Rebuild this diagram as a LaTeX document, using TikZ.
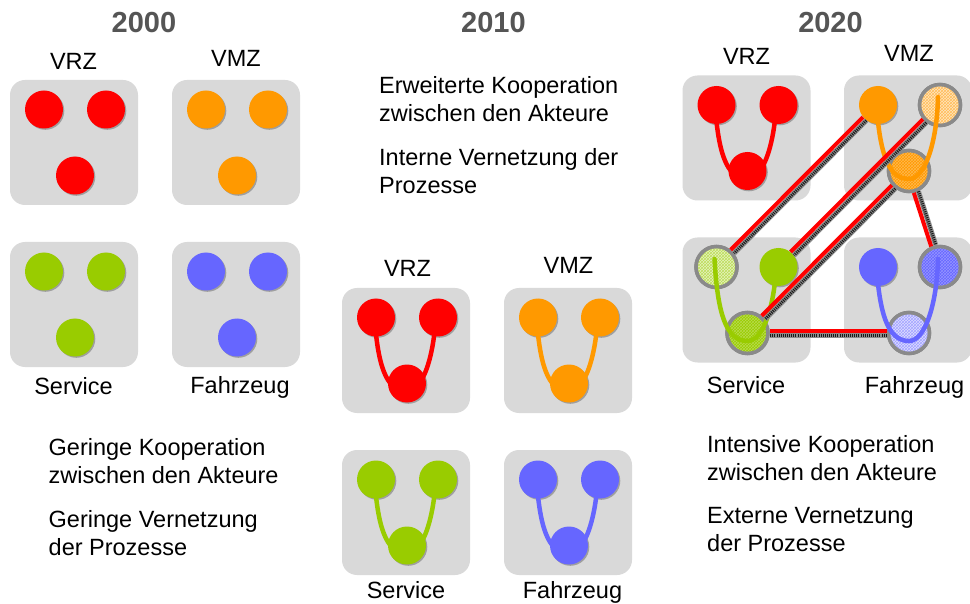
\documentclass[tikz,border=0pt]{standalone}
\usepackage{fontspec}
\setmainfont{Liberation Sans}
\usetikzlibrary{calc,shadows,patterns}

\definecolor{cRed}{HTML}{FF0000}
\definecolor{cOrange}{HTML}{FF9900}
\definecolor{cGreen}{HTML}{99CC00}
\definecolor{cBlue}{HTML}{6666FF}
\definecolor{boxgray}{HTML}{D9D9D9}
\definecolor{titlegray}{HTML}{555555}
\definecolor{ringgray}{HTML}{8A8A8A}

\tikzset{
  panelbox/.style={rectangle, rounded corners=15pt, fill=boxgray,
    minimum width=128pt, minimum height=125pt, inner sep=0pt},
  dot/.style={circle, inner sep=0pt, minimum size=38pt, fill=#1,
    drop shadow={shadow xshift=1.3pt, shadow yshift=-1.3pt, opacity=0.5, fill=black!60}},
  ring/.style 2 args={circle, inner sep=0pt, minimum size=41pt, line width=3.5pt,
    draw=ringgray, fill=#1,
    postaction={pattern=crosshatch, pattern color=#2},
    postaction={draw=ringgray, line width=3.5pt}},
  vcurve/.style={draw=#1, line width=4.5pt, line cap=round},
  linkred/.style={draw=cRed, line width=4pt},
  linkhatch/.style={draw=black!45, line width=5pt},
  linkdots/.style={draw=black!90, line width=3pt, dash pattern=on 1pt off 1.1pt},
  year/.style={font=\bfseries\fontsize{29}{34}\selectfont, text=titlegray,
    anchor=base, inner sep=0pt},
  actorname/.style={font=\fontsize{23.5}{28}\selectfont, anchor=base, inner sep=0pt},
  blurb/.style={font=\fontsize{23.5}{28}\selectfont, align=left,
    anchor=north west, inner sep=0pt},
}

% grey panel with three actor circles: prefix, centre x, centre y, three circle styles
\newcommand{\trio}[6]{%
  \node[panelbox] (#1) at (#2,#3) {};
  \node[#4] (#1a) at (#2-30,#3-33) {};
  \node[#5] (#1b) at (#2+32,#3-33) {};
  \node[#6] (#1c) at (#2+1,#3+33) {};
}

% curved process link running from the upper circles through the lower one
\newcommand{\vlink}[2]{%
  \draw[vcurve=#2] ($(#1a)+(-2,-8)$) .. controls ($(#1a)+(1,45)$) and ($(#1c)+(-22,8)$) .. ($(#1c)+(0,8)$)
    .. controls ($(#1c)+(16,8)$) and ($(#1b)+(-3,37)$) .. ($(#1b)+(-2,-8)$);
}

% external link between two actors: red line beside a hatched grey line
\newcommand{\crosslink}[2]{%
  \path (#1) -- (#2) coordinate[pos=0] (lks) coordinate[pos=1] (lke);
  \draw[linkhatch] ($(lks)!2.7pt!90:(lke)$) -- ($(lke)!2.7pt!-90:(lks)$);
  \draw[linkdots] ($(lks)!2.7pt!90:(lke)$) -- ($(lke)!2.7pt!-90:(lks)$);
  \draw[linkred] ($(lks)!2.1pt!-90:(lke)$) -- ($(lke)!2.1pt!90:(lks)$);
}

\begin{document}
\begin{tikzpicture}[x=1pt, y=-1pt]
  \fill[white] (0,0) rectangle (970,604);
  \useasboundingbox (0,0) rectangle (970,604);

  % ---------------- 2000 ----------------
  \node[year] (y0) at (144,33) {2000};
  \node[actorname] (n0a) at (73.5,70) {VRZ};
  \node[actorname] (n0b) at (236,67) {VMZ};
  \trio{a0}{74}{142.5}{dot=cRed}{dot=cRed}{dot=cRed}
  \trio{b0}{236}{142.5}{dot=cOrange}{dot=cOrange}{dot=cOrange}
  \trio{s0}{74}{304.5}{dot=cGreen}{dot=cGreen}{dot=cGreen}
  \trio{f0}{236}{304.5}{dot=cBlue}{dot=cBlue}{dot=cBlue}
  \node[actorname] (n0s) at (73.5,394) {Service};
  \node[actorname] (n0f) at (240,393) {Fahrzeug};
  \node[blurb] (t0a) at (48.5,435.4) {\strut Geringe Kooperation\\zwischen den Akteure};
  \node[blurb] (t0b) at (48.5,507.4) {\strut Geringe Vernetzung\\der Prozesse};

  % ---------------- 2010 ----------------
  \node[year] (y1) at (493.5,33) {2010};
  \node[blurb] (t1a) at (379,73.4) {\strut Erweiterte Kooperation\\zwischen den Akteure};
  \node[blurb] (t1b) at (379,145.4) {\strut Interne Vernetzung der\\Prozesse};
  \node[actorname] (n1a) at (407.5,277) {VRZ};
  \node[actorname] (n1b) at (568.5,274) {VMZ};
  \trio{a1}{406}{350.5}{dot=cRed}{dot=cRed}{dot=cRed}
  \trio{b1}{568}{350.5}{dot=cOrange}{dot=cOrange}{dot=cOrange}
  \trio{s1}{406}{512.5}{dot=cGreen}{dot=cGreen}{dot=cGreen}
  \trio{f1}{568}{512.5}{dot=cBlue}{dot=cBlue}{dot=cBlue}
  \vlink{a1}{cRed}
  \vlink{b1}{cOrange}
  \vlink{s1}{cGreen}
  \vlink{f1}{cBlue}
  \node[actorname] (n1s) at (406,598) {Service};
  \node[actorname] (n1f) at (572.5,598) {Fahrzeug};

  % ---------------- 2020 ----------------
  \node[year] (y2) at (830.5,33) {2020};
  \node[actorname] (n2a) at (746.5,65) {VRZ};
  \node[actorname] (n2b) at (909,62) {VMZ};
  \trio{a2}{746.5}{138}{dot=cRed}{dot=cRed}{dot=cRed}
  \trio{b2}{908}{138}{dot=cOrange}{ring={cOrange!25!white}{cOrange!65!white}}{ring={cOrange}{cOrange!70!white}}
  \trio{s2}{746.5}{300}{ring={cGreen!25!white}{cGreen!65!white}}{dot=cGreen}{ring={cGreen}{cGreen!70!white}}
  \trio{f2}{908}{300}{dot=cBlue}{ring={cBlue}{cBlue!70!white}}{ring={cBlue!22!white}{cBlue!60!white}}
  \vlink{a2}{cRed}
  \vlink{b2}{cOrange}
  \vlink{s2}{cGreen}
  \vlink{f2}{cBlue}
  \crosslink{b2a}{s2a}
  \crosslink{b2b}{s2b}
  \crosslink{b2c}{s2c}
  \crosslink{b2c}{f2b}
  \crosslink{f2c}{s2c}
  \node[actorname] (n2s) at (746,393) {Service};
  \node[actorname] (n2f) at (914.5,393) {Fahrzeug};
  \node[blurb] (t2a) at (707,432.4) {\strut Intensive Kooperation\\zwischen den Akteure};
  \node[blurb] (t2b) at (707,503.4) {\strut Externe Vernetzung\\der Prozesse};
\end{tikzpicture}
\end{document}
